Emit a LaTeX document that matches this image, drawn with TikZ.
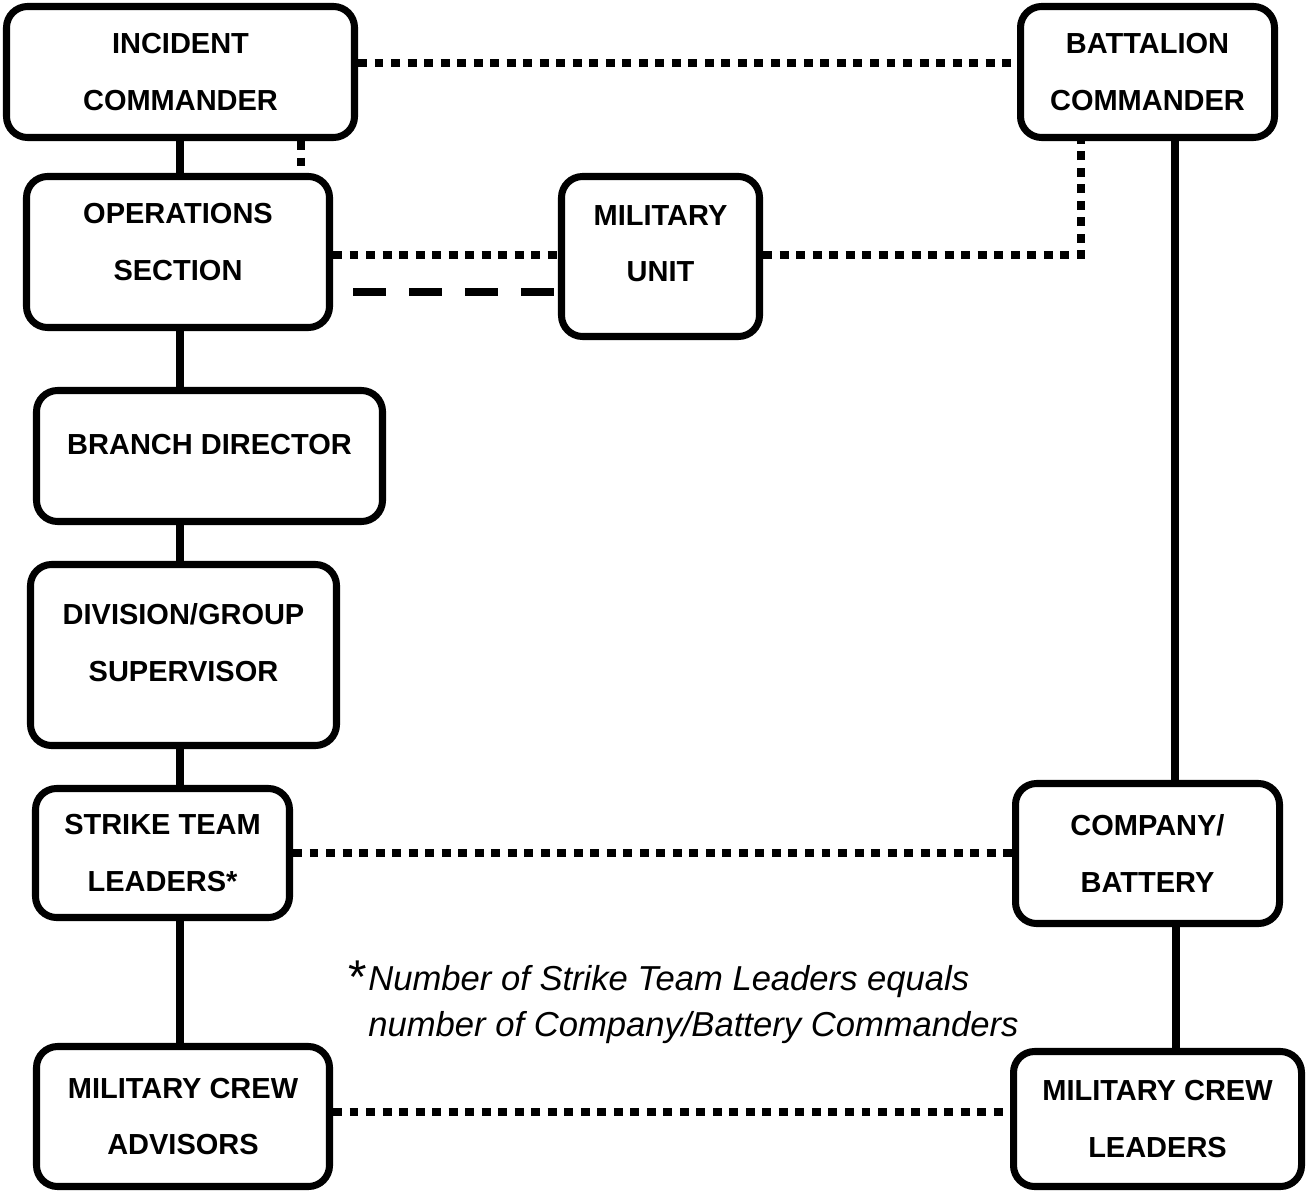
\documentclass[tikz,border=0pt]{standalone}
\usepackage{fontspec}
\setmainfont{Liberation Sans}
\begin{document}
\begin{tikzpicture}[x=0.02cm,y=-0.02cm,
    post/.style={draw,line width=4pt,rounded corners=12pt,align=center,inner sep=0pt,
      font=\bfseries\fontsize{16.5pt}{32.4pt}\selectfont},
    dims/.style 2 args={minimum width=#1*0.02cm,minimum height=#2*0.02cm},
    tie/.style={line width=4.3pt},
    dotline/.style={line width=4.5pt,dash pattern=on 5.1pt off 4.3pt},
    dashline/.style={line width=4.5pt,dash pattern=on 0.66cm off 0.46cm,dash phase=0.72cm}]
    \useasboundingbox (0,0) rectangle (1311,1192);
    % left column
    \node[post,dims={348}{131}] (ic) at (180.5,72) {INCIDENT\\COMMANDER};
    \node[post,dims={303}{151},text depth=0.4cm] (ops) at (178,252) {OPERATIONS\\SECTION};
    \node[post,dims={346}{131},text depth=0.48cm] (branch) at (209.5,456) {BRANCH DIRECTOR};
    \node[post,dims={306}{181},text depth=0.5cm] (div) at (183.5,655) {DIVISION/GROUP\\SUPERVISOR};
    \node[post,dims={254}{129}] (stl) at (162.5,853) {STRIKE TEAM\\LEADERS*};
    \node[post,dims={293}{140}] (adv) at (183,1116.5) {MILITARY CREW\\ADVISORS};
    % military side
    \node[post,dims={198}{160},text depth=0.52cm] (unit) at (660.5,256.5) {MILITARY\\UNIT};
    \node[post,dims={254}{131}] (batt) at (1147.5,72) {BATTALION\\COMMANDER};
    \node[post,dims={264}{140}] (co) at (1147.5,853.5) {COMPANY/\\BATTERY};
    \node[post,dims={288}{135}] (mcl) at (1157.5,1119) {MILITARY CREW\\LEADERS};
    % footnote
    \node[inner sep=0pt,anchor=north west,font=\fontsize{27pt}{30pt}\selectfont] (star) at (348,961) {*};
    \node[inner sep=0pt,anchor=north west,align=left,
      font=\itshape\fontsize{19.7pt}{26.5pt}\selectfont] (note) at (368,965)
      {Number of Strike Team Leaders equals\\number of Company/Battery Commanders};
    % chain of command
    \coordinate (spine) at (180,0);
    \draw[tie] (ic.south -| spine) -- (ops.north -| spine);
    \draw[tie] (ops.south -| spine) -- (branch.north -| spine);
    \draw[tie] (branch.south -| spine) -- (div.north -| spine);
    \draw[tie] (div.south -| spine) -- (stl.north -| spine);
    \draw[tie] (stl.south -| spine) -- (adv.north -| spine);
    \draw[tie] (batt.south -| 1175,0) -- (co.north -| 1175,0);
    \draw[tie] (co.south -| 1176,0) -- (mcl.north -| 1176,0);
    % coordination
    \draw[dotline] (ic.east |- 0,63) -- (batt.west |- 0,63);
    \draw[dotline] (ic.south -| 301,0) -- (ops.north -| 301,0);
    \draw[dotline] (ops.east |- 0,255) -- (unit.west |- 0,255);
    \draw[dashline] (ops.east |- 0,292) -- (unit.west |- 0,292);
    \draw[dotline] (unit.east |- 0,255) -| (batt.south -| 1081,0);
    \draw[dotline] (stl.east) -- (stl.east -| co.west);
    \draw[dotline] (adv.east |- 0,1112) -- (mcl.west |- 0,1112);
\end{tikzpicture}
\end{document}
